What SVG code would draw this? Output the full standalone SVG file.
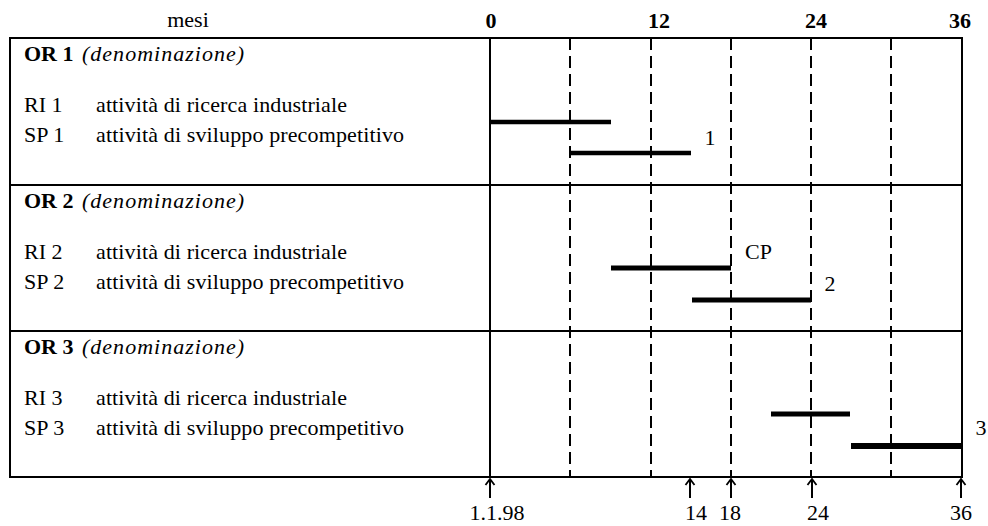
<svg xmlns="http://www.w3.org/2000/svg" width="988" height="526" viewBox="0 0 988 526">
<defs>
<style>
text{font-family:"Liberation Serif","Times New Roman",serif;font-size:22px;fill:#000}
.b{font-weight:bold}
.i{font-style:italic}
.m{text-anchor:middle}
.frame{fill:none;stroke:#000;stroke-width:2}
.dash{stroke:#000;stroke-width:2;stroke-dasharray:12 6}
.bar{stroke:#000;stroke-width:5}
.arr{stroke:#000;stroke-width:2;fill:none}
</style>
<marker id="ah" markerUnits="userSpaceOnUse" markerWidth="12" markerHeight="12" refX="0" refY="0" viewBox="-7 -6 9 12" orient="auto" overflow="visible">
<path d="M-6,-4.5 L0,0 L-6,4.5" fill="none" stroke="#000" stroke-width="1.8"/>
</marker>
</defs>
<rect width="988" height="526" fill="#fff"/>

<g id="header">
<text x="188" y="27" class="m">mesi</text>
<text x="491" y="28" class="m b">0</text>
<text x="659" y="28" class="m b">12</text>
<text x="816" y="28" class="m b">24</text>
<text x="960" y="28" class="m b">36</text>
</g>

<g id="grid">
<rect class="frame" x="10" y="38" width="952" height="439"/>
<line class="frame" x1="10" y1="185" x2="962" y2="185"/>
<line class="frame" x1="10" y1="331" x2="962" y2="331"/>
<line class="frame" x1="490" y1="38" x2="490" y2="477"/>
<line class="dash" x1="570" y1="38" x2="570" y2="477"/>
<line class="dash" x1="651" y1="38" x2="651" y2="477"/>
<line class="dash" x1="731" y1="38" x2="731" y2="477"/>
<line class="dash" x1="811" y1="38" x2="811" y2="477"/>
<line class="dash" x1="891" y1="38" x2="891" y2="477"/>
</g>

<g id="or1">
<text x="24" y="61" class="b">OR 1</text>
<text x="82" y="61" class="i" textLength="162">(denominazione)</text>
<text x="24" y="112">RI 1</text>
<text x="96" y="112" textLength="251">attività di ricerca industriale</text>
<text x="24" y="142">SP 1</text>
<text x="96" y="142" textLength="308">attività di sviluppo precompetitivo</text>
<line class="bar" x1="490" y1="122" x2="611" y2="122" style="stroke-width:4.5"/>
<line class="bar" x1="570" y1="153" x2="691" y2="153" style="stroke-width:4.5"/>
<text x="710" y="145" class="m">1</text>
</g>

<g id="or2">
<text x="24" y="208" class="b">OR 2</text>
<text x="82" y="208" class="i" textLength="162">(denominazione)</text>
<text x="24" y="259">RI 2</text>
<text x="96" y="259" textLength="251">attività di ricerca industriale</text>
<text x="24" y="289">SP 2</text>
<text x="96" y="289" textLength="308">attività di sviluppo precompetitivo</text>
<line class="bar" x1="611" y1="268" x2="731" y2="268"/>
<line class="bar" x1="692" y1="300" x2="811" y2="300"/>
<text x="745" y="259">CP</text>
<text x="830" y="291" class="m">2</text>
</g>

<g id="or3">
<text x="24" y="354" class="b">OR 3</text>
<text x="82" y="354" class="i" textLength="162">(denominazione)</text>
<text x="24" y="405">RI 3</text>
<text x="96" y="405" textLength="251">attività di ricerca industriale</text>
<text x="24" y="435">SP 3</text>
<text x="96" y="435" textLength="308">attività di sviluppo precompetitivo</text>
<line class="bar" x1="771" y1="414" x2="850" y2="414"/>
<line class="bar" x1="851" y1="446" x2="961" y2="446" style="stroke-width:6"/>
<text x="981" y="435" class="m">3</text>
</g>

<g id="connectors">
<line class="arr" x1="490" y1="498" x2="490" y2="479" marker-end="url(#ah)"/>
<line class="arr" x1="690" y1="498" x2="690" y2="479" marker-end="url(#ah)"/>
<line class="arr" x1="731" y1="498" x2="731" y2="479" marker-end="url(#ah)"/>
<line class="arr" x1="812" y1="498" x2="812" y2="479" marker-end="url(#ah)"/>
<line class="arr" x1="961" y1="498" x2="961" y2="479" marker-end="url(#ah)"/>
</g>

<g id="dates">
<text x="497" y="520" class="m">1.1.98</text>
<text x="696" y="520" class="m">14</text>
<text x="730" y="520" class="m">18</text>
<text x="818" y="520" class="m">24</text>
<text x="961" y="520" class="m">36</text>
</g>
</svg>
